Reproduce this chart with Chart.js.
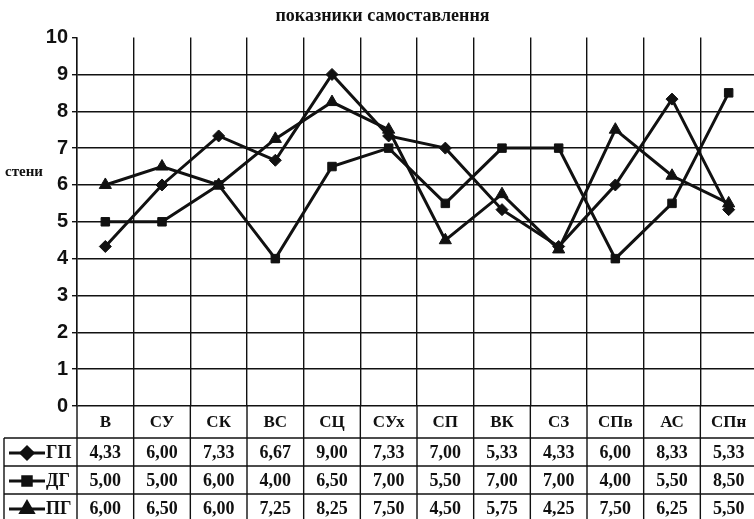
<!DOCTYPE html>
<html>
<head>
<meta charset="utf-8">
<script src="https://cdn.jsdelivr.net/npm/chart.js@4/dist/chart.umd.min.js"></script>
<style>
  html, body { margin: 0; padding: 0; background: #fff; overflow: hidden; }
  #wrap { width: 754px; height: 519px; overflow: hidden; }
</style>
</head>
<body>
<div id="wrap"><canvas id="c" width="765" height="519"></canvas></div>
<script>
'use strict';

// ─── Дані ────────────────────────────────────────────────────────────────────
const categories = ['В', 'СУ', 'СК', 'ВС', 'СЦ', 'СУх', 'СП', 'ВК', 'СЗ', 'СПв', 'АС', 'СПн'];
const seriesNames = ['ГП', 'ДГ', 'ПГ'];
const gp = [4.33, 6.00, 7.33, 6.67, 9.00, 7.33, 7.00, 5.33, 4.33, 6.00, 8.33, 5.33];
const dg = [5.00, 5.00, 6.00, 4.00, 6.50, 7.00, 5.50, 7.00, 7.00, 4.00, 5.50, 8.50];
const pg = [6.00, 6.50, 6.00, 7.25, 8.25, 7.50, 4.50, 5.75, 4.25, 7.50, 6.25, 5.50];
const yTicks = [0, 1, 2, 3, 4, 5, 6, 7, 8, 9, 10];
const chartTitle = 'показники самоставлення';
const yTitle = 'стени';

const markers = ['rectRot', 'rect', 'triangle'];
const markerSize = [6, 6, 7];
const INK = '#111';
const SERIF = "'Liberation Serif', 'DejaVu Serif', serif";

// ─── Таблиця даних під графіком ─────────────────────────────────────────────
const tablePlugin = {
  id: 'dataTable',
  afterDraw(chart) {
    const { ctx, chartArea, scales } = chart;
    const x = scales.x;
    const top = chartArea.bottom;
    const headerH = 32, rowH = 28, leftEdge = 4;
    const bottom = chart.height + 5;
    const colW = (chartArea.right - chartArea.left) / categories.length;

    ctx.save();
    ctx.strokeStyle = INK;
    ctx.lineWidth = 1.4;

    // вертикальні лінії
    for (let i = 0; i <= categories.length; i++) {
      const xx = chartArea.left + i * colW;
      ctx.beginPath();
      ctx.moveTo(xx, top);
      ctx.lineTo(xx, bottom);
      ctx.stroke();
    }
    ctx.beginPath();
    ctx.moveTo(leftEdge, top + headerH);
    ctx.lineTo(leftEdge, bottom);
    ctx.stroke();

    // горизонтальні лінії
    for (let r = 0; r < 3; r++) {
      const yy = top + headerH + r * rowH;
      ctx.beginPath();
      ctx.moveTo(leftEdge, yy);
      ctx.lineTo(chart.width, yy);
      ctx.stroke();
    }

    ctx.fillStyle = INK;
    ctx.textAlign = 'center';
    ctx.textBaseline = 'middle';
    ctx.font = 'bold 17px ' + SERIF;
    categories.forEach((c, i) => {
      ctx.fillText(c, x.getPixelForValue(i), top + headerH / 2 + 1);
    });

    const allData = [gp, dg, pg];
    allData.forEach((arr, r) => {
      const cy = top + headerH + r * rowH + rowH / 2 + 1;
      ctx.font = 'bold 18px ' + SERIF;
      arr.forEach((v, i) => {
        ctx.fillText(v.toFixed(2).replace('.', ','), x.getPixelForValue(i), cy);
      });

      // легенда у першій клітинці
      ctx.save();
      ctx.lineWidth = 3;
      ctx.beginPath();
      ctx.moveTo(9, cy);
      ctx.lineTo(45, cy);
      ctx.stroke();
      Chart.helpers.drawPoint(ctx, { pointStyle: markers[r], radius: markerSize[r], borderWidth: 1 }, 27, cy);
      ctx.fill();
      ctx.restore();
      ctx.textAlign = 'left';
      ctx.font = 'bold 18px ' + SERIF;
      ctx.fillText(seriesNames[r], 46, cy);
      ctx.textAlign = 'center';
    });

    // підпис осі Y
    ctx.textAlign = 'left';
    ctx.font = 'bold 15px ' + SERIF;
    ctx.fillText(yTitle, 5, 172);
    ctx.restore();
  }
};

// ─── Графік ──────────────────────────────────────────────────────────────────
const datasets = [gp, dg, pg].map((arr, i) => ({
  label: seriesNames[i],
  data: arr,
  borderColor: INK,
  backgroundColor: INK,
  borderWidth: 3,
  pointStyle: markers[i],
  pointRadius: markerSize[i],
  pointHoverRadius: markerSize[i],
  pointBorderWidth: 1,
  tension: 0,
}));

new Chart(document.getElementById('c'), {
  type: 'line',
  data: { labels: categories, datasets },
  plugins: [tablePlugin],
  options: {
    responsive: false,
    animation: false,
    layout: { padding: { top: 0, bottom: 113, right: 0, left: 0 } },
    plugins: {
      legend: { display: false },
      tooltip: { enabled: false },
      title: {
        display: true,
        text: chartTitle,
        color: INK,
        font: { family: SERIF, size: 18, weight: 'bold' },
        padding: { top: 6, bottom: 10 },
      },
    },
    scales: {
      x: {
        offset: true,
        grid: { offset: true, color: INK, lineWidth: 1.4, drawTicks: false },
        border: { display: false },
        ticks: { display: false },
      },
      y: {
        min: 0,
        max: 10,
        afterBuildTicks: s => { s.ticks = yTicks.map(v => ({ value: v })); },
        afterFit: s => { s.width = 77; },
        grid: {
          color: c => (c.tick && c.tick.value === 10 ? 'rgba(0,0,0,0)' : INK),
          tickColor: INK,
          tickLength: 5,
          lineWidth: 1.4,
        },
        border: { color: INK, width: 1.4 },
        ticks: {
          color: INK,
          padding: 4,
          font: { family: "'Liberation Sans', Arial, sans-serif", size: 20, weight: 'bold' },
        },
      },
    },
  },
});
</script>
</body>
</html>
